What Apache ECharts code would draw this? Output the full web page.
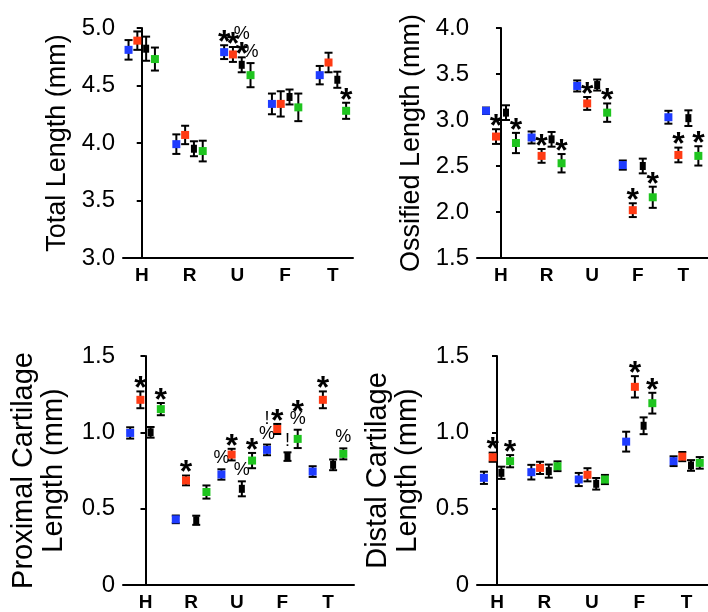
<!DOCTYPE html>
<html lang="en">
<head>
    <meta charset="UTF-8">
    <script src="https://cdn.jsdelivr.net/npm/echarts@6.0.0/dist/echarts.min.js"></script>
    <style type="text/css">
        html, body, #main {
            height: 100%;
            width: 100%;
            margin: 0;
            padding: 0;
            background: #fff;
        }
    </style>
    <title>Bone lengths</title>
</head>
<body>
<div id="main"></div>
<script>
    var bones = ['H', 'R', 'U', 'F', 'T'];
    var groupColors = ['#1f3cff', '#ff3b14', '#000000', '#1fc41f'];

    // rows: blue, red, black, green ; columns: H R U F T
    var totalMean = [
        [4.81, 3.99, 4.79, 4.34, 4.59],
        [4.89, 4.07, 4.77, 4.34, 4.70],
        [4.82, 3.95, 4.68, 4.40, 4.55],
        [4.73, 3.93, 4.59, 4.31, 4.28]
    ];
    var totalErr = [
        [0.085, 0.085, 0.06, 0.09, 0.08],
        [0.08, 0.08, 0.065, 0.11, 0.085],
        [0.105, 0.065, 0.065, 0.065, 0.07],
        [0.10, 0.09, 0.105, 0.12, 0.07]
    ];
    var totalMarks = [
        ['', '', '*', '', ''],
        ['', '', '*', '', ''],
        ['', '', '%\n*', '', ''],
        ['', '', '%', '', '*']
    ];

    var ossMean = [
        [3.10, 2.81, 3.37, 2.51, 3.03],
        [2.82, 2.61, 3.18, 2.02, 2.62],
        [3.08, 2.79, 3.38, 2.50, 3.02],
        [2.75, 2.53, 3.08, 2.16, 2.61]
    ];
    var ossErr = [
        [0.035, 0.065, 0.06, 0.05, 0.07],
        [0.08, 0.075, 0.07, 0.075, 0.08],
        [0.08, 0.08, 0.06, 0.08, 0.085],
        [0.11, 0.10, 0.10, 0.115, 0.105]
    ];
    var ossMarks = [
        ['', '', '', '', ''],
        ['*', '*', '*', '*', '*'],
        ['', '', '', '', ''],
        ['*', '*', '*', '*', '*']
    ];

    var proxMean = [
        [0.996, 0.43, 0.724, 0.885, 0.743],
        [1.213, 0.685, 0.854, 1.022, 1.213],
        [1.0, 0.424, 0.63, 0.841, 0.787],
        [1.152, 0.609, 0.815, 0.957, 0.859]
    ];
    var proxErr = [
        [0.037, 0.025, 0.034, 0.035, 0.035],
        [0.055, 0.032, 0.038, 0.033, 0.055],
        [0.035, 0.03, 0.049, 0.028, 0.035],
        [0.04, 0.043, 0.05, 0.06, 0.036]
    ];
    var proxMarks = [
        ['', '', '%', '!\n%', ''],
        ['*', '*', '*', '*', '*'],
        ['', '', '%', '!', ''],
        ['*', '', '*', '*\n%', '%']
    ];

    var distMean = [
        [0.702, 0.739, 0.691, 0.939, 0.811],
        [0.837, 0.767, 0.722, 1.298, 0.841],
        [0.735, 0.746, 0.663, 1.043, 0.783],
        [0.811, 0.778, 0.691, 1.191, 0.80]
    ];
    var distErr = [
        [0.04, 0.048, 0.043, 0.065, 0.032],
        [0.03, 0.04, 0.043, 0.07, 0.03],
        [0.04, 0.043, 0.038, 0.055, 0.035],
        [0.04, 0.032, 0.03, 0.068, 0.038]
    ];
    var distMarks = [
        ['', '', '', '', ''],
        ['*', '', '', '*', ''],
        ['', '', '', '', ''],
        ['*', '', '', '*', '']
    ];

    var FONT = '"Liberation Sans", Arial, Helvetica, sans-serif';

    var panels = [
        {mean: totalMean, err: totalErr, marks: totalMarks, name: 'Total Length (mm)', nameSize: 27, nameGap: 50,
            yMin: 3, yMax: 5, left: 123, top: 28, width: 230, xMin: -0.392, xMax: 4.42, step: 0.184},
        {mean: ossMean, err: ossErr, marks: ossMarks, name: 'Ossified Length (mm)', nameSize: 27, nameGap: 50,
            yMin: 1.5, yMax: 4, left: 477, top: 28, width: 231, xMin: -0.526, xMax: 4.54, step: 0.219},
        {mean: proxMean, err: proxErr, marks: proxMarks, name: 'Proximal Cartilage\nLength (mm)', nameSize: 29, nameGap: 54,
            yMin: 0, yMax: 1.5, left: 123, top: 356, width: 231, xMin: -0.493, xMax: 4.57, step: 0.224},
        {mean: distMean, err: distErr, marks: distMarks, name: 'Distal Cartilage\nLength (mm)', nameSize: 29, nameGap: 54,
            yMin: 0, yMax: 1.5, left: 477, top: 356, width: 231, xMin: -0.422, xMax: 4.45, step: 0.184}
    ];

    function drawMarks(kids, text, x, yTop) {
        var lines = text.split('\n');
        var yb = yTop - 3;
        for (var k = lines.length - 1; k >= 0; k--) {
            var s = lines[k];
            if (s === '*') {
                kids.push({type: 'text', style: {text: s, x: x, y: yb + 1, align: 'center',
                    verticalAlign: 'middle', font: 'bold 32px ' + FONT, fill: '#000'}});
                yb -= 12;
            } else {
                kids.push({type: 'text', style: {text: s, x: x, y: yb + 1, align: 'center',
                    verticalAlign: 'bottom', font: '18px ' + FONT, fill: '#000'}});
                yb -= 15;
            }
        }
    }

    function makeSeries(p, idx) {
        return groupColors.map(function (color, g) {
            var data = p.mean[g].map(function (m, i) {
                return [i + (g - 1.5) * p.step, m, p.err[g][i]];
            });
            return {
                type: 'custom',
                xAxisIndex: idx,
                yAxisIndex: idx,
                data: data,
                clip: false,
                renderItem: function (params, api) {
                    var x = api.value(0), y = api.value(1), e = api.value(2);
                    var c = api.coord([x, y]);
                    var t = api.coord([x, y + e]);
                    var b = api.coord([x, y - e]);
                    var ls = {stroke: '#000', lineWidth: 2};
                    var w = g === 2 ? 6 : 8, h = 8;
                    var kids = [
                        {type: 'line', shape: {x1: c[0], y1: t[1], x2: c[0], y2: b[1]}, style: ls},
                        {type: 'line', shape: {x1: c[0] - 4, y1: t[1], x2: c[0] + 4, y2: t[1]}, style: ls},
                        {type: 'line', shape: {x1: c[0] - 4, y1: b[1], x2: c[0] + 4, y2: b[1]}, style: ls},
                        {type: 'rect', shape: {x: c[0] - w / 2, y: c[1] - h / 2, width: w, height: h},
                            style: {fill: color}}
                    ];
                    var mk = p.marks[g][params.dataIndex];
                    if (mk) drawMarks(kids, mk, c[0], t[1]);
                    return {type: 'group', children: kids};
                }
            };
        });
    }

    var myChart = echarts.init(document.getElementById('main'));
    var option = {
        animation: false,
        backgroundColor: '#fff',
        grid: panels.map(function (p) {
            return {left: p.left, top: p.top, width: p.width, height: 230};
        }),
        xAxis: panels.map(function (p, idx) {
            return {
                type: 'value', gridIndex: idx, min: p.xMin, max: p.xMax,
                splitLine: {show: false},
                axisLine: {show: true, lineStyle: {color: '#000', width: 2}},
                axisTick: {show: false},
                axisLabel: {
                    customValues: [0, 1, 2, 3, 4],
                    formatter: function (v) { return bones[Math.round(v)]; },
                    color: '#000', fontWeight: 'bold', fontSize: 19, fontFamily: FONT, margin: 8
                }
            };
        }),
        yAxis: panels.map(function (p, idx) {
            return {
                type: 'value', gridIndex: idx, min: p.yMin, max: p.yMax, interval: 0.5,
                name: p.name, nameLocation: 'middle', nameGap: p.nameGap,
                nameTextStyle: {color: '#000', fontSize: p.nameSize, fontFamily: FONT, lineHeight: 30},
                splitLine: {show: false},
                axisLine: {show: true, lineStyle: {color: '#000', width: 2}},
                axisTick: {show: true, length: 5, lineStyle: {color: '#000', width: 2}},
                axisLabel: {
                    formatter: function (v) { return v === 0 ? '0' : v.toFixed(1); },
                    color: '#000', fontSize: 24, fontFamily: FONT, margin: 8
                }
            };
        }),
        series: []
    };
    panels.forEach(function (p, idx) {
        option.series = option.series.concat(makeSeries(p, idx));
    });
    myChart.setOption(option);
</script>
</body>
</html>
